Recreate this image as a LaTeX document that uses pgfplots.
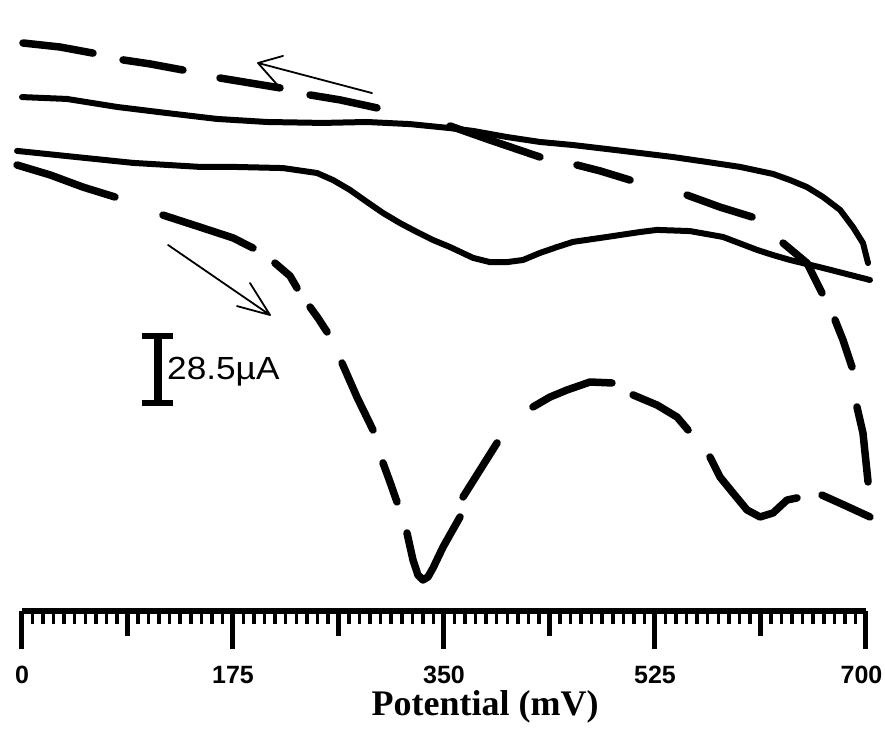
\documentclass[border=0pt]{standalone}
\usepackage{graphicx}
\usepackage{pgfplots}
\pgfplotsset{compat=1.18}
\usepackage{fontspec}
\setmainfont{Liberation Serif}
\newfontfamily\arialfont{Liberation Sans}

\pgfplotsset{
  ruler/.style={
    x=1.20571bp, y=2.351bp,
    xmin=0, xmax=700, ymin=0, ymax=250,
    clip=false,
    axis y line=none,
    axis x line*=bottom,
    x axis line style={-, line width=6bp},
    tick align=outside,
  },
}

\begin{document}
\begin{tikzpicture}
% half-way ticks of the potential ruler
\begin{axis}[
  ruler,
  xtick={87.5,262.5,437.5,612.5},
  xticklabels={},
  major tick length=25bp,
  major tick style={line width=4.5bp, black},
]
\end{axis}

\begin{axis}[
  ruler,
  xtick={0,175,350,525,700},
  xticklabels={0,175,350,525,\hspace*{-9bp}700},
  minor x tick num=19,
  major tick length=38bp,
  minor tick length=13bp,
  major tick style={line width=5bp, black},
  minor tick style={line width=3.5bp, black},
  /pgf/number format/assume math mode=true,
  xticklabel style={font=\arialfont\bfseries\fontsize{25bp}{25bp}\selectfont, yshift=-14bp},
  xlabel={Potential (mV)},
  xlabel style={font=\bfseries\fontsize{36bp}{36bp}\selectfont,
    at={(axis description cs:0.5486,-0.1625)}, anchor=center},
]

% solid trace: upper branch
\addplot[black, line width=6bp, line join=round, line cap=round] coordinates {
(0,218.6)(37.3,217.8)(78.8,214.4)(120.3,211.8)(161.7,209.3)(203.2,208.0)
(249.6,207.6)(286.1,208.0)(321.8,207.1)(355.0,205.4)(374.1,204.2)(402.3,201.6)
(429.6,199.5)(457.0,198.2)(485.2,196.5)(512.6,194.8)(539.9,193.1)(568.1,191.0)
(595.5,188.9)(622.9,185.9)(637.0,183.3)(651.1,180.3)(664.4,176.1)(678.5,170.6)
(689.2,163.3)(697.5,156.5)(701.7,148.0)
};

% solid trace: lower branch
\addplot[black, line width=6bp, line join=round, line cap=round] coordinates {
(-4.1,195.7)(37.3,193.5)(92.1,190.6)(147.6,188.9)(175.0,188.9)(216.5,188.4)
(244.7,186.3)(258.0,183.3)(272.0,179.1)(286.1,174.0)(299.4,169.3)(313.5,165.0)
(327.6,161.2)(340.9,157.8)(355.0,154.8)(374.1,150.2)(388.2,148.4)(402.3,148.4)
(415.5,149.3)(429.6,152.3)(443.7,154.8)(457.0,157.0)(485.2,159.1)(512.6,161.2)
(526.7,162.1)(554.0,161.6)(581.4,159.1)(609.6,153.6)(622.9,151.4)(637.0,149.3)
(664.4,145.9)(703.3,140.8)
};

% dashed trace, one dash per group (nan breaks the line)
\addplot[black, line width=7.5bp, line join=round, line cap=round, unbounded coords=jump] coordinates {
(-4.1,189.7)(23.2,185.5)(50.6,180.3)(77.1,176.1) (80,nan)
(116.9,168.4)(147.6,163.3)(175.0,158.7)(191.6,154.4) (200,nan)
(209.8,148.0)(222.3,142.5)(228.1,137.4) (230,nan)
(238.9,129.3)(245.5,124.6)(253.0,118.7) (255,nan)
(265.4,105.5)(277.8,91.0)(291.1,77.0) (295,nan)
(299.4,63.0)(305.2,54.9)(311.0,46.4) (315,nan)
(319.3,33.2)(324.3,21.7)(328.4,15.3)(332.6,13.2)(336.7,14.5)(340.9,18.3)(349.2,27.2)(363.3,40.0) (364,nan)
(365.8,48.5)(379.9,60.0)(394.0,71.5) (400,nan)
(423.8,86.8)(437.9,91.0)(452.0,94.0)(471.1,97.4)(489.3,97.0) (495,nan)
(506.8,91.9)(526.7,87.6)(543.3,82.5)(552.4,77.0) (560,nan)
(570.6,65.5)(578.9,57.0)(589.7,50.2)(601.3,43.0)(612.1,40.0)(622.9,41.7)(634.5,47.2)(642.8,48.1) (650,nan)
(663.5,49.3)(683.4,44.7)(703.3,40.0) (703,nan)
(701.7,54.9)(697.5,75.7)(692.5,86.8) (690,nan)
(688.4,103.8)(680.9,115.3)(674.3,123.8) (670,nan)
(663.5,135.3)(651.1,148.0)(631.2,156.5) (620,nan)
(605.5,167.6)(578.9,171.8)(551.6,176.9) (530,nan)
(504.3,183.3)(479.4,187.2)(460.3,189.7) (450,nan)
(429.6,193.1)(388.2,200.3)(355.0,206.3) (320,nan)
(294.4,214.0)(263.7,217.4)(238.9,219.5) (225,nan)
(214.0,222.5)(189.1,224.6)(164.2,226.7) (150,nan)
(133.5,230.1)(106.2,232.7)(83.8,234.4) (70,nan)
(58.9,237.3)(31.5,239.9)(0.8,241.6)
};

% scan direction arrows
\draw[line width=1.8bp, line cap=round, line join=round]
  (axis cs:290.3,220.3) -- (axis cs:195.7,233.1)
  (axis cs:216.5,236.1) -- (axis cs:195.7,233.1) -- (axis cs:214.0,222.5);
\draw[line width=1.8bp, line cap=round, line join=round]
  (axis cs:121.1,155.7) -- (axis cs:205.7,125.9)
  (axis cs:189.1,139.5) -- (axis cs:205.7,125.9) -- (axis cs:178.3,129.7);

% current scale bar: 28.5 uA
\draw[line width=8bp] (axis cs:112.4,88.5) -- (axis cs:112.4,117.0);
\draw[line width=6bp] (axis cs:99.3,117.0) -- (axis cs:125.5,117.0);
\draw[line width=6bp] (axis cs:99.3,88.5) -- (axis cs:125.5,88.5);
\node[anchor=base west, inner sep=0pt, font=\arialfont\fontsize{32bp}{32bp}\selectfont]
  at (axis cs:120.3,98.5) {\scalebox{1.1}[1]{28.5µA}};

\coordinate (O) at (axis cs:0,0);
\end{axis}
\pgfresetboundingbox
\path[use as bounding box] (O) ++(-22bp,-119bp) rectangle ++(885bp,730bp);
\end{tikzpicture}
\end{document}
